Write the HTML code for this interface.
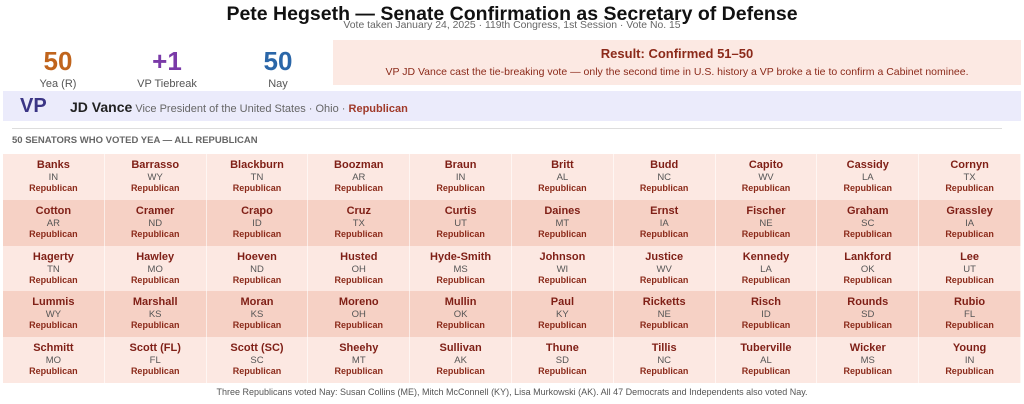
<!DOCTYPE html><html><head><style>
body{margin:0;width:1024px;height:404px;background:#fff;font-family:"Liberation Sans",Arial,sans-serif;position:relative;overflow:hidden}
.a{position:absolute}
h1{position:absolute;left:0;width:1024px;top:2px;margin:0;text-align:center;font-size:19.5px;line-height:24px;font-weight:bold;color:#111}
.sub{left:0;width:1024px;top:20px;text-align:center;font-size:10.4px;color:#666}
.stat{width:110px;text-align:center;top:46px}
.stat b{display:block;font-size:26px;line-height:30px}
.stat span{display:block;font-size:11px;color:#555;margin-top:2px}
.grid{left:3px;top:154px;width:1018px}
.row{display:flex;height:45.8px}
.row:nth-child(odd){background:#fce8e2}
.row:nth-child(even){background:#f6d1c5}
.c{flex:1;text-align:center;border-right:1px solid rgba(255,255,255,.6);padding-top:5px;box-sizing:border-box}
.c b{display:block;font-size:11px;color:#7f1f16;line-height:13px}
.c i{display:block;font-style:normal;font-size:9.5px;color:#555;line-height:11px}
.c s{display:block;text-decoration:none;font-size:9px;font-weight:bold;color:#8b2a1a;line-height:11px}
</style></head><body>
<h1>Pete Hegseth — Senate Confirmation as Secretary of Defense</h1>
<div class="a sub">Vote taken January 24, 2025 · 119th Congress, 1st Session · Vote No. 15</div>
<div class="a stat" style="left:3px"><b style="color:#c0641c">50</b><span>Yea (R)</span></div>
<div class="a stat" style="left:112px"><b style="color:#7a3aa8">+1</b><span>VP Tiebreak</span></div>
<div class="a stat" style="left:223px"><b style="color:#2a66a8">50</b><span>Nay</span></div>
<div class="a" style="left:333px;top:40px;width:688px;height:45px;background:#fce9e3;text-align:center">
<div style="font-size:13px;font-weight:bold;color:#8b2a1a;margin-top:6px">Result: Confirmed 51–50</div>
<div style="font-size:10.5px;color:#8b2a1a;margin-top:5px">VP JD Vance cast the tie-breaking vote — only the second time in U.S. history a VP broke a tie to confirm a Cabinet nominee.</div></div>
<div class="a" style="left:3px;top:91px;width:1018px;height:30px;background:#ebebfb"></div>
<div class="a" style="left:20px;top:95px;font-size:20px;font-weight:bold;color:#3b3585">VP</div>
<div class="a" style="left:70px;top:99px;font-size:11px;color:#666"><b style="font-size:14px;color:#222">JD Vance</b> Vice President of the United States · Ohio · <b style="color:#a03a2a">Republican</b></div>
<div class="a" style="left:12px;top:128px;width:990px;height:1px;background:#ddd"></div>
<div class="a" style="left:12px;top:135px;font-size:9.5px;font-weight:bold;color:#666">50 SENATORS WHO VOTED YEA — ALL REPUBLICAN</div>
<div class="a grid" id="g"></div>
<div class="a" style="left:0;width:1024px;top:387px;text-align:center;font-size:9px;color:#555">Three Republicans voted Nay: Susan Collins (ME), Mitch McConnell (KY), Lisa Murkowski (AK). All 47 Democrats and Independents also voted Nay.</div>
<script>
var d="Banks IN,Barrasso WY,Blackburn TN,Boozman AR,Braun IN,Britt AL,Budd NC,Capito WV,Cassidy LA,Cornyn TX,Cotton AR,Cramer ND,Crapo ID,Cruz TX,Curtis UT,Daines MT,Ernst IA,Fischer NE,Graham SC,Grassley IA,Hagerty TN,Hawley MO,Hoeven ND,Husted OH,Hyde-Smith MS,Johnson WI,Justice WV,Kennedy LA,Lankford OK,Lee UT,Lummis WY,Marshall KS,Moran KS,Moreno OH,Mullin OK,Paul KY,Ricketts NE,Risch ID,Rounds SD,Rubio FL,Schmitt MO,Scott (FL) FL,Scott (SC) SC,Sheehy MT,Sullivan AK,Thune SD,Tillis NC,Tuberville AL,Wicker MS,Young IN".split(",");
var h="";for(var r=0;r<5;r++){h+='<div class="row">';for(var c=0;c<10;c++){var s=d[r*10+c],k=s.lastIndexOf(" ");h+='<div class="c"><b>'+s.slice(0,k)+'</b><i>'+s.slice(k+1)+'</i><s>Republican</s></div>';}h+='</div>';}
document.getElementById("g").innerHTML=h;
</script>
</body></html>
